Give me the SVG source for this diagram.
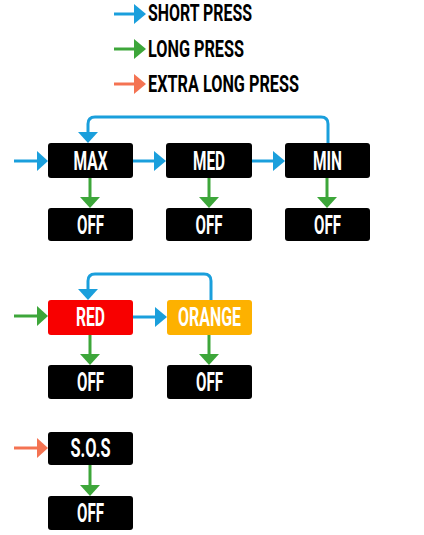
<svg xmlns="http://www.w3.org/2000/svg" width="424" height="535" viewBox="0 0 424 535">
<style>
.box{fill:#000}
.lbl{font-family:Roboto,"DejaVu Sans Condensed",sans-serif;font-weight:bold;font-size:26px;fill:#fff;text-anchor:middle}
.leg{font-family:Roboto,"DejaVu Sans Condensed",sans-serif;font-weight:bold;font-size:23px;fill:#000}
.b{stroke:#1a9fdc;stroke-width:3;fill:none}
.g{stroke:#3da63a;stroke-width:3;fill:none}
.o{stroke:#f47352;stroke-width:3;fill:none}
.bh{fill:#1a9fdc}
.gh{fill:#3da63a}
.oh{fill:#f47352}
</style>
<rect width="424" height="535" fill="#fff"/>
<g id="legend">
<line class="b" x1="114" y1="14" x2="135" y2="14"/><polygon class="bh" points="134,4 146,14 134,24"/>
<text class="leg" x="148" y="21" textLength="104" lengthAdjust="spacingAndGlyphs">SHORT PRESS</text>
<line class="g" x1="114" y1="49" x2="135" y2="49"/><polygon class="gh" points="134,39 146,49 134,59"/>
<text class="leg" x="148" y="57" textLength="96" lengthAdjust="spacingAndGlyphs">LONG PRESS</text>
<line class="o" x1="114" y1="84" x2="135" y2="84"/><polygon class="oh" points="134,74 146,84 134,94"/>
<text class="leg" x="148" y="92" textLength="151" lengthAdjust="spacingAndGlyphs">EXTRA LONG PRESS</text>
</g>
<g id="connectors">
<line class="b" x1="14" y1="161" x2="39" y2="161"/><polygon class="bh" points="37,151 48,161 37,171"/>
<line class="b" x1="133" y1="161" x2="156" y2="161"/><polygon class="bh" points="154,151 166,161 154,171"/>
<line class="b" x1="252" y1="161" x2="275" y2="161"/><polygon class="bh" points="273,151 285,161 273,171"/>
<path class="b" d="M328,143 V124 Q328,117 321,117 H95 Q88,117 88,124 V133"/><polygon class="bh" points="78,132 98,132 88,143"/>
<line class="g" x1="90" y1="178" x2="90" y2="198"/><polygon class="gh" points="80,197 100,197 90,208"/>
<line class="g" x1="209" y1="178" x2="209" y2="198"/><polygon class="gh" points="199,197 219,197 209,208"/>
<line class="g" x1="327" y1="178" x2="327" y2="198"/><polygon class="gh" points="317,197 337,197 327,208"/>
<line class="g" x1="14" y1="316" x2="39" y2="316"/><polygon class="gh" points="37,306 48,316 37,326"/>
<line class="b" x1="133" y1="317" x2="157" y2="317"/><polygon class="bh" points="155,307 167,317 155,327"/>
<path class="b" d="M211,300 V281 Q211,274 204,274 H95 Q88,274 88,281 V290"/><polygon class="bh" points="78,289 98,289 88,300"/>
<line class="g" x1="90" y1="335" x2="90" y2="355"/><polygon class="gh" points="80,354 100,354 90,365"/>
<line class="g" x1="209" y1="335" x2="209" y2="355"/><polygon class="gh" points="199,354 219,354 209,365"/>
<line class="o" x1="14" y1="448" x2="39" y2="448"/><polygon class="oh" points="37,438 48,448 37,458"/>
<line class="g" x1="90" y1="465" x2="90" y2="486"/><polygon class="gh" points="80,485 100,485 90,496"/>
</g>
<g id="max"><rect class="box" x="48" y="143" width="85" height="35" rx="3"/><text class="lbl" x="90.5" y="170" textLength="34" lengthAdjust="spacingAndGlyphs">MAX</text></g>
<g id="med"><rect class="box" x="166" y="143" width="86" height="35" rx="3"/><text class="lbl" x="209" y="170" textLength="32" lengthAdjust="spacingAndGlyphs">MED</text></g>
<g id="min"><rect class="box" x="285" y="143" width="85" height="35" rx="3"/><text class="lbl" x="327.5" y="170" textLength="29" lengthAdjust="spacingAndGlyphs">MIN</text></g>
<g id="off1"><rect class="box" x="48" y="208" width="85" height="33" rx="3"/><text class="lbl" x="90.5" y="234" textLength="27" lengthAdjust="spacingAndGlyphs">OFF</text></g>
<g id="off2"><rect class="box" x="166" y="208" width="86" height="33" rx="3"/><text class="lbl" x="209" y="234" textLength="27" lengthAdjust="spacingAndGlyphs">OFF</text></g>
<g id="off3"><rect class="box" x="285" y="208" width="85" height="33" rx="3"/><text class="lbl" x="327.5" y="234" textLength="27" lengthAdjust="spacingAndGlyphs">OFF</text></g>
<g id="red"><rect x="48" y="300" width="85" height="35" rx="3" fill="#f80000"/><text class="lbl" x="90.5" y="326" textLength="29" lengthAdjust="spacingAndGlyphs">RED</text></g>
<g id="orange"><rect x="167" y="300" width="85" height="35" rx="3" fill="#fdb100"/><text class="lbl" x="209.5" y="326" textLength="63" lengthAdjust="spacingAndGlyphs">ORANGE</text></g>
<g id="off4"><rect class="box" x="48" y="365" width="85" height="34" rx="3"/><text class="lbl" x="90.5" y="391" textLength="27" lengthAdjust="spacingAndGlyphs">OFF</text></g>
<g id="off5"><rect class="box" x="167" y="365" width="85" height="34" rx="3"/><text class="lbl" x="209.5" y="391" textLength="27" lengthAdjust="spacingAndGlyphs">OFF</text></g>
<g id="sos"><rect class="box" x="48" y="432" width="85" height="33" rx="3"/><text class="lbl" x="90.5" y="457" textLength="40" lengthAdjust="spacingAndGlyphs">S.O.S</text></g>
<g id="off6"><rect class="box" x="48" y="496" width="85" height="34" rx="3"/><text class="lbl" x="90.5" y="522" textLength="27" lengthAdjust="spacingAndGlyphs">OFF</text></g>
</svg>
